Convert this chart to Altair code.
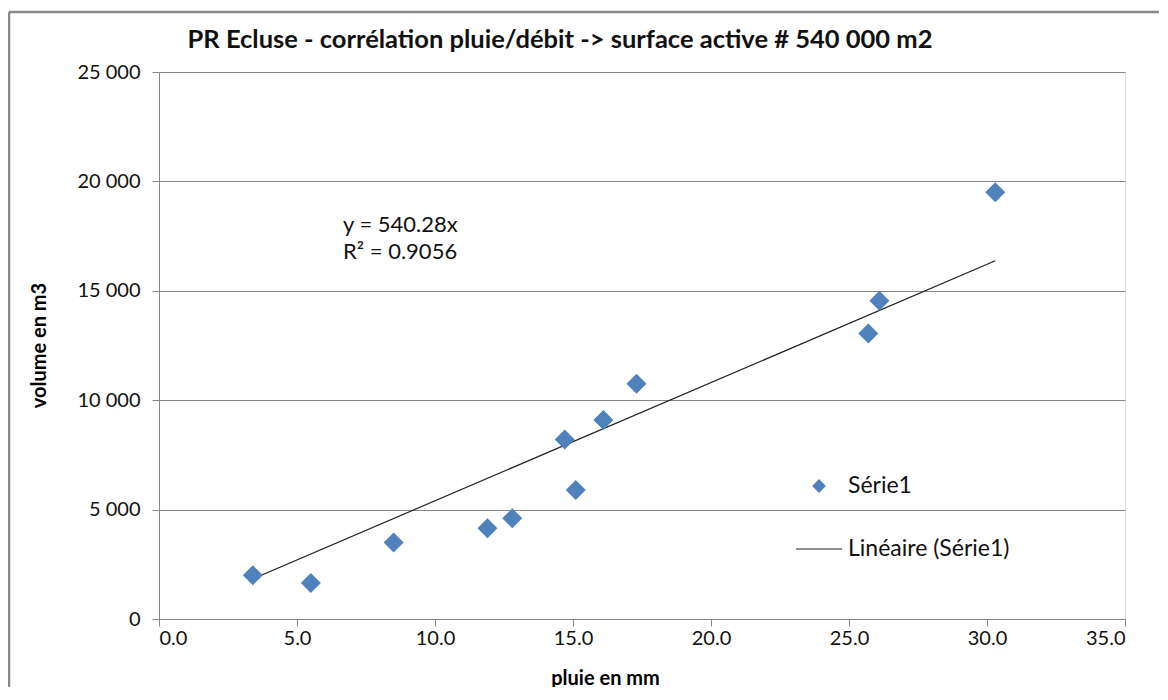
import altair as alt
import pandas as pd

# ---- data ----
pluie_mm = [3.4, 5.5, 8.5, 11.9, 12.8, 14.7, 15.1, 16.1, 17.3, 25.7, 26.1, 30.3]
volume_m3 = [2000, 1650, 3500, 4150, 4600, 8200, 5900, 9100, 10750, 13050, 14550, 19500]
trend_slope = 540.28
r_squared = 0.9056
legend_labels = ["Série1", "Linéaire (Série1)"]
x_ticks = [0, 5, 10, 15, 20, 25, 30, 35]
y_ticks = [0, 5000, 10000, 15000, 20000, 25000]

title_text = "PR Ecluse - corrélation pluie/débit -> surface active # 540 000 m2"
eq_lines = [f"y = {trend_slope}x", f"R² = {r_squared}"]

df = pd.DataFrame({"pluie": pluie_mm, "volume": volume_m3})

FONT = "Lato"
BLUE = "#4F81BD"
GRID = "#868686"
W, H = 966, 547

x_scale = alt.Scale(domain=[0, 35], nice=False, zero=True)
y_scale = alt.Scale(domain=[0, 25000], nice=False)

x_axis = alt.Axis(
    values=x_ticks, format=".1f", title="pluie en mm", grid=False,
    domainColor=GRID, tickColor=GRID, tickSize=7, labelPadding=2,
    labelFontSize=20, labelColor="#111", labelFont=FONT,
    titleFont=FONT, titleFontSize=20, titleFontWeight="bold", titleColor="#000",
    titleX=446, titleY=59, titleAlign="center", titleBaseline="middle",
)
y_axis = alt.Axis(
    values=y_ticks, title="volume en m3",
    labelExpr="replace(format(datum.value, ','), ',', ' ')",
    grid=True, gridColor=GRID, gridWidth=1,
    domainColor=GRID, tickColor=GRID, tickSize=7, labelPadding=12,
    labelFontSize=20, labelColor="#111", labelFont=FONT,
    titleFont=FONT, titleFontSize=20, titleFontWeight="bold", titleColor="#000",
    titleX=-120, titleY=273, titleAngle=270, titleAlign="center", titleBaseline="middle",
)

base = alt.Chart(df)

points = base.mark_point(shape="diamond", filled=True, size=400, color=BLUE, opacity=1).encode(
    x=alt.X("pluie:Q", scale=x_scale, axis=x_axis),
    y=alt.Y("volume:Q", scale=y_scale, axis=y_axis),
)

trend = base.transform_aggregate(
    xmin="min(pluie)", xmax="max(pluie)"
).transform_calculate(
    ymin=f"{trend_slope} * datum.xmin", ymax=f"{trend_slope} * datum.xmax"
).mark_rule(color="#222", strokeWidth=1.2).encode(
    x=alt.X("xmin:Q", scale=x_scale, axis=x_axis), x2="xmax:Q",
    y=alt.Y("ymin:Q", scale=y_scale, axis=y_axis), y2="ymax:Q",
)

one = pd.DataFrame({"k": [0]})


def label(text, x, y, size, weight="normal", align="left"):
    return alt.Chart(one).mark_text(
        text=text, font=FONT, fontSize=size, fontWeight=weight, color="#111",
        align=align, baseline="middle",
    ).encode(x=alt.value(x), y=alt.value(y))


ann1 = label(eq_lines[0], 184, 153, 22)
ann2 = label(eq_lines[1], 184, 180, 22)
title = label(title_text, 401, -32, 25.5, weight="bold", align="center")

leg_pt = alt.Chart(one).mark_point(shape="diamond", filled=True, size=190, color=BLUE, opacity=1).encode(
    x=alt.value(660), y=alt.value(414)
)
leg_line = alt.Chart(one).mark_rule(color="#222", strokeWidth=1.2).encode(
    x=alt.value(637), x2=alt.value(683), y=alt.value(477)
)
leg_t1 = label(legend_labels[0], 689, 414, 23)
leg_t2 = label(legend_labels[1], 689, 477, 23)

frame_top = alt.Chart(one).mark_rule(color="#888888", strokeWidth=2.5).encode(
    x=alt.value(-150), x2=alt.value(W + 60), y=alt.value(-60)
)
frame_left = alt.Chart(one).mark_rule(color="#888888", strokeWidth=2.5).encode(
    x=alt.value(-150), y=alt.value(-60), y2=alt.value(H + 90)
)

chart = alt.layer(
    frame_top, frame_left, trend, points, ann1, ann2, title, leg_pt, leg_line, leg_t1, leg_t2
).properties(
    width=W, height=H,
    autosize=alt.AutoSizeParams(type="none"),
    padding={"left": 151, "top": 64, "right": 34, "bottom": 68},
).configure_view(stroke=None).configure(background="white")

chart.save("out.html", embed_options={"renderer": "svg", "actions": False})
